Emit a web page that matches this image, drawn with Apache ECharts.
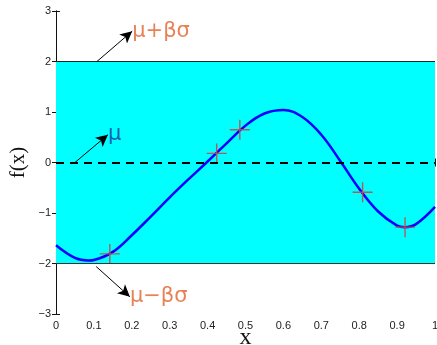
<!DOCTYPE html>
<html>
<head>
<meta charset="utf-8">
<script src="https://cdn.jsdelivr.net/npm/echarts@6/dist/echarts.min.js"></script>
<style>
  html, body { margin: 0; padding: 0; background: #fff; }
  #main { width: 437px; height: 345px; }
</style>
</head>
<body>
<div id="main"></div>
<script>
// curve f(x)
var curveX = [0, 0.05, 0.085, 0.1, 0.15, 0.2, 0.25, 0.3, 0.35, 0.4, 0.45, 0.5, 0.55, 0.6, 0.65, 0.7, 0.75, 0.8, 0.85, 0.9, 0.92, 0.95, 1];
var curveY = [-1.64, -1.89, -1.94, -1.93, -1.77, -1.44, -1.07, -0.69, -0.33, 0.02, 0.38, 0.73, 0.97, 1.04, 0.9, 0.55, 0.03, -0.52, -0.97, -1.25, -1.28, -1.22, -0.88];

// sampled points (+)
var sampleX = [0.142, 0.424, 0.485, 0.809, 0.921];
var sampleY = [-1.81, 0.18, 0.65, -0.59, -1.28];

// mean and band
var mu = 0;
var upper = 2;
var lower = -2;

// annotations: text, arrow start, arrow end
var annotText = ['μ+βσ', 'μ', 'μ−βσ'];
var arrowFrom = [[0.108, 2.0], [0.05, 0], [0.106, -2.06]];
var arrowTo = [[0.201, 2.6], [0.137, 0.55], [0.195, -2.66]];
var annotColor = ['#e2612c', '#1a3a9e', '#e2612c'];

var xTicks = { min: 0, max: 1, step: 0.1 };
var yTicks = { min: -3, max: 3, step: 1 };

var chart = echarts.init(document.getElementById('main'));

var curve = curveX.map(function (x, i) { return [x, curveY[i]]; });
var samples = sampleX.map(function (x, i) { return [x, sampleY[i]]; });

var fmt = function (v) {
  return String(+v.toFixed(1)).replace('-', '\u2212');
};

var baseAxis = {
  type: 'value',
  axisLine: { show: true, lineStyle: { color: '#111', width: 1 } },
  axisTick: { show: true, inside: true, length: 4, lineStyle: { color: '#111' } },
  splitLine: { show: false }
};

var plus = 'path://M-0.7,-10 L0.7,-10 L0.7,-0.7 L10,-0.7 L10,0.7 L0.7,0.7 L0.7,10 L-0.7,10 L-0.7,0.7 L-10,0.7 L-10,-0.7 L-0.7,-0.7 Z';

var option = {
  animation: false,
  grid: { left: 56, right: 2, top: 11, bottom: 31, containLabel: false, outerBoundsMode: 'none' },
  xAxis: [
    Object.assign({}, baseAxis, {
      min: xTicks.min, max: xTicks.max, interval: xTicks.step,
      axisLabel: { formatter: fmt, color: '#222', fontSize: 11, margin: 6, fontFamily: 'Liberation Sans' },
      name: 'x', nameLocation: 'middle', nameGap: 12, nameMoveOverlap: false,
      nameTextStyle: { fontFamily: 'Liberation Serif', fontSize: 24, color: '#111' }
    }),
    Object.assign({}, baseAxis, {
      position: 'top', min: xTicks.min, max: xTicks.max, interval: xTicks.step,
      axisLabel: { show: false }
    })
  ],
  yAxis: [
    Object.assign({}, baseAxis, {
      min: yTicks.min, max: yTicks.max, interval: yTicks.step,
      axisLabel: { formatter: fmt, color: '#222', fontSize: 11, margin: 5, fontFamily: 'Liberation Sans' },
      name: 'f(x)', nameLocation: 'middle', nameGap: 27, nameMoveOverlap: false,
      nameTextStyle: { fontFamily: 'Liberation Serif', fontSize: 21, color: '#111' }
    }),
    Object.assign({}, baseAxis, {
      position: 'right', min: yTicks.min, max: yTicks.max, interval: yTicks.step,
      axisLabel: { show: false }
    })
  ],
  series: [
    {
      type: 'line',
      data: [],
      silent: true,
      markArea: {
        silent: true,
        itemStyle: { color: '#00ffff' },
        data: [[{ yAxis: lower }, { yAxis: upper }]]
      },
      markLine: {
        silent: true,
        symbol: 'none',
        label: { show: false },
        data: [
          { yAxis: upper, lineStyle: { color: '#222', width: 1, type: 'solid' } },
          { yAxis: lower, lineStyle: { color: '#333', width: 1, type: 'solid' } },
          { yAxis: mu, lineStyle: { color: '#000', width: 2, type: [8, 6] } }
        ]
      }
    },
    {
      type: 'line',
      data: curve,
      smooth: 0.4,
      showSymbol: false,
      lineStyle: { color: '#0000ff', width: 2.5 },
      z: 3
    },
    {
      type: 'scatter',
      data: samples,
      symbol: plus,
      symbolSize: 20,
      itemStyle: { color: '#c8484a', opacity: 0.9 },
      z: 4
    },
    {
      type: 'scatter',
      symbolSize: 0,
      data: annotText.map(function (t, i) {
        return {
          value: arrowTo[i],
          label: {
            show: true, formatter: t, position: 'right', distance: 0,
            color: annotColor[i], fontSize: 21, fontFamily: 'DejaVu Sans'
          }
        };
      }),
      markLine: {
        silent: true,
        symbol: ['none', 'arrow'],
        symbolSize: [9, 12],
        label: { show: false },
        lineStyle: { color: '#000', width: 1, type: 'solid' },
        data: arrowFrom.map(function (p, i) {
          return [{ coord: p }, { coord: arrowTo[i] }];
        })
      },
      z: 5
    }
  ]
};

chart.setOption(option);
</script>
</body>
</html>
